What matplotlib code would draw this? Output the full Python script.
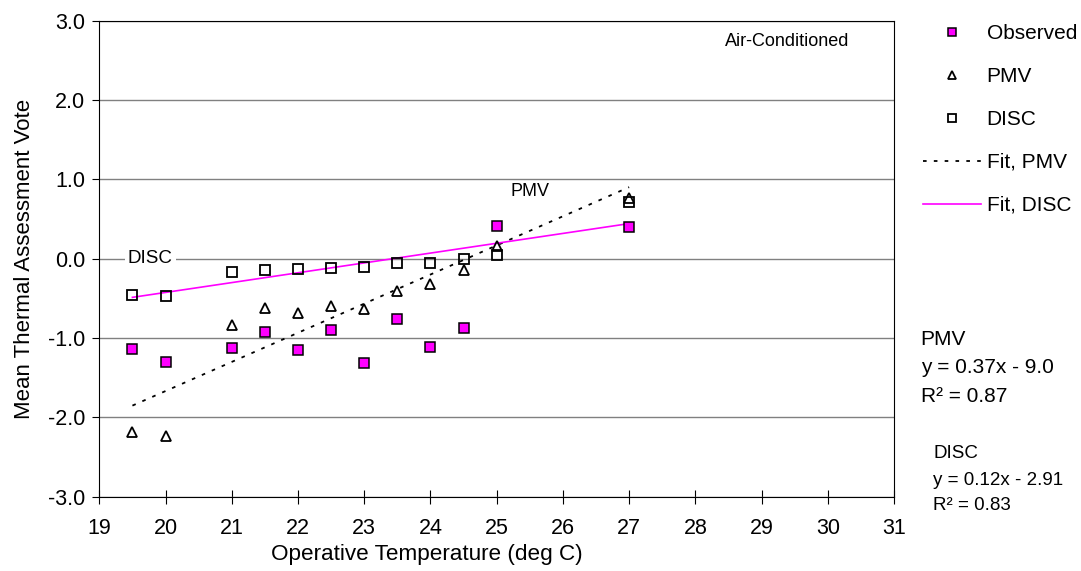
import numpy as np
import matplotlib
matplotlib.use('Agg')
import matplotlib.pyplot as plt

plt.rcParams['font.family'] = ['Liberation Sans', 'DejaVu Sans']
plt.rcParams['axes.unicode_minus'] = False

# 数据
temps = [19.5, 20, 21, 21.5, 22, 22.5, 23, 23.5, 24, 24.5, 25, 27]
observed = [-1.14, -1.30, -1.12, -0.93, -1.15, -0.90, -1.31, -0.76, -1.11, -0.87, 0.41, 0.40]
pmv = [-2.18, -2.24, -0.84, -0.62, -0.68, -0.59, -0.63, -0.41, -0.32, -0.14, 0.16, 0.77]
disc = [-0.46, -0.47, -0.17, -0.14, -0.13, -0.12, -0.10, -0.06, -0.06, 0.00, 0.05, 0.71]

x_ticks = list(range(19, 32))
y_ticks = [-3, -2, -1, 0, 1, 2, 3]

# 线性拟合 (trendline)
fit_x = np.array([min(temps), max(temps)])
pmv_fit = np.polyval(np.polyfit(temps, pmv, 1), fit_x)
disc_fit = np.polyval(np.polyfit(temps, disc, 1), fit_x)

W, H = 1081, 571
fig = plt.figure(figsize=(W / 100, H / 100), dpi=100)
ax = fig.add_axes([99.3 / W, 1 - 496.7 / H, (894 - 99.3) / W, 476 / H])

ms = 7
ax.plot(temps, observed, 's', ms=ms, mfc='#FF00FF', mec='black', mew=1.1, label='Observed', zorder=3)
ax.plot(temps, pmv, '^', ms=ms + 0.5, mfc='none', mec='black', mew=1.3, label='PMV', zorder=3)
ax.plot(temps, disc, 's', ms=ms, mfc='none', mec='black', mew=1.3, label='DISC', zorder=3)
ax.plot(fit_x, pmv_fit, color='black', lw=1.3, ls=(0, (2, 4)), label='Fit, PMV', zorder=2)
ax.plot(fit_x, disc_fit, color='#FF00FF', lw=1.2, label='Fit, DISC', zorder=2)

ax.set_xlim(19, 31)
ax.set_ylim(-3, 3)
ax.set_xticks(x_ticks)
ax.set_yticks(y_ticks)
ax.set_yticklabels(['%.1f' % v for v in y_ticks])
ax.tick_params(axis='x', direction='inout', length=9.4, width=0.8, labelsize=15.5, pad=10.5)
ax.tick_params(axis='y', direction='out', length=5, width=0.8, labelsize=15.5, pad=5)
ax.grid(axis='y', color='#808080', lw=1.0)
ax.set_axisbelow(True)
for s in ax.spines.values():
    s.set_linewidth(0.8)
    s.set_color('black')

ax.set_xlabel('Operative Temperature (deg C)', fontsize=16.2)
ax.xaxis.set_label_coords(0.412, -0.100)
ax.set_ylabel('Mean Thermal Assessment Vote', fontsize=16)
ax.yaxis.set_label_coords(-0.081, 0.5)

ax.text(19.77, 0.0, 'DISC', fontsize=13.5, ha='center', va='center',
        bbox=dict(facecolor='white', edgecolor='none', pad=2))
ax.text(25.5, 0.85, 'PMV', fontsize=13, ha='center', va='center')
ax.text(29.39, 2.74, 'Air-Conditioned', fontsize=13, ha='center', va='center')

leg = ax.legend(loc='upper left', bbox_to_anchor=(923 / W, 1 - 24 / H), bbox_transform=fig.transFigure,
                frameon=False, fontsize=15, handlelength=2.8, handletextpad=0.25,
                labelspacing=1.15, borderpad=0, borderaxespad=0, markerscale=0.85)

# 回归方程
fig.text(920.7 / W, 1 - 345 / H, 'PMV', fontsize=15, va='baseline')
fig.text(920.7 / W, 1 - 373.3 / H, 'y = 0.37x - 9.0', fontsize=15, va='baseline')
fig.text(920.7 / W, 1 - 402 / H, 'R² = 0.87', fontsize=15, va='baseline')
fig.text(933 / W, 1 - 458.3 / H, 'DISC', fontsize=13.5, va='baseline')
fig.text(933 / W, 1 - 485 / H, 'y = 0.12x - 2.91', fontsize=13.5, va='baseline')
fig.text(933 / W, 1 - 510 / H, 'R² = 0.83', fontsize=13.5, va='baseline')

fig.savefig('out.png', dpi=100)
